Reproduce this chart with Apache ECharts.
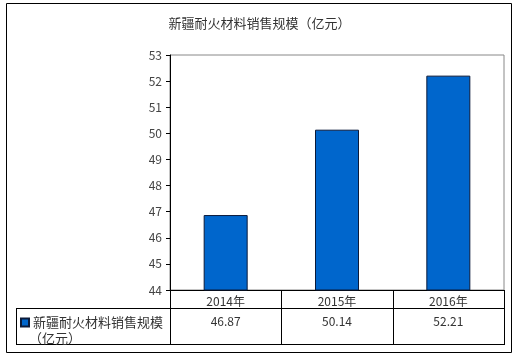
<!DOCTYPE html>
<html><head><meta charset="utf-8">
<script src="https://cdn.jsdelivr.net/npm/echarts@6/dist/echarts.min.js"></script>
<style>html,body{margin:0;padding:0;background:#fff}#c{width:519px;height:361px}</style>
</head><body><div id="c"></div>
<script>
const titleText = '新疆耐火材料销售规模（亿元）';
const seriesName = '新疆耐火材料销售规模';
const seriesUnit = '（亿元）';
const categories = ['2014年', '2015年', '2016年'];
const values = [46.87, 50.14, 52.21];
const valueLabels = ['46.87', '50.14', '52.21'];
const yMin = 44, yMax = 53, yStep = 1;

const FONT = '"Noto Sans CJK SC", "DejaVu Sans", sans-serif';
const chart = echarts.init(document.getElementById('c'));
const G = {left: 170, top: 55, width: 334, height: 235};
chart.setOption({
  animation: false,
  title: {text: titleText, left: 'center', top: 12, textStyle: {fontFamily: FONT, fontSize: 13, fontWeight: 'normal', color: '#333'}},
  legend: {
    data: [seriesName], left: 15, top: 311, itemWidth: 8, itemHeight: 8, icon: 'rect',
    itemGap: 0, textStyle: {fontFamily: FONT, fontSize: 13, color: '#333', padding: [0, 0, 0, -1]}
  },
  grid: {left: G.left, top: G.top, width: G.width, height: G.height, show: true, borderColor: '#888', borderWidth: 1},
  xAxis: {
    type: 'category', data: categories,
    axisLine: {lineStyle: {color: '#000', width: 1}},
    axisTick: {show: false},
    axisLabel: {fontFamily: FONT, fontSize: 12, color: '#333', margin: 5}
  },
  yAxis: {
    type: 'value', min: yMin, max: yMax, interval: yStep,
    axisLine: {show: true, lineStyle: {color: '#000'}},
    axisTick: {show: true, length: 4, lineStyle: {color: '#000'}},
    splitLine: {show: false},
    axisLabel: {fontFamily: FONT, fontSize: 12, color: '#444', margin: 8}
  },
  series: [{
    name: seriesName, type: 'bar', data: values, barWidth: 44,
    itemStyle: {color: '#0066CC', borderColor: '#0a1a3a', borderWidth: 1}
  }]
});

const c0 = chart.convertToPixel({xAxisIndex: 0}, categories[0]);
const c1 = chart.convertToPixel({xAxisIndex: 0}, categories[1]);
const band = c1 - c0;
const yBase = chart.convertToPixel({yAxisIndex: 0}, yMin);
const yHead = yBase + 18, yBot = yBase + 54;
const xLeg = 16;
const xL = c0 - band / 2, xR = xL + band * categories.length;
const line = (x1, y1, x2, y2, color) => ({type: 'line', silent: true, shape: {x1, y1, x2, y2}, style: {stroke: color || '#000', lineWidth: 1}});
const els = [];
els.push({type: 'rect', shape: {x: 6.5, y: 3.5, width: 505, height: 349}, style: {fill: 'none', stroke: '#000', lineWidth: 1}, z: -1});
els.push(line(xLeg, yHead + 0.5, xR, yHead + 0.5));
els.push(line(xLeg, yBot + 0.5, xR, yBot + 0.5));
els.push(line(xLeg + 0.5, yHead, xLeg + 0.5, yBot + 1));
for (let i = 0; i <= categories.length; i++) {
  const x = Math.round(xL + band * i) + 0.5;
  els.push(line(x, yBase, x, yBot + 1));
}
categories.forEach((cat, i) => {
  const cx = chart.convertToPixel({xAxisIndex: 0}, cat);
  els.push({type: 'text', style: {x: cx, y: yHead + 13, text: valueLabels[i], align: 'center', verticalAlign: 'middle', font: '12px ' + FONT, fill: '#333'}});
});
els.push({type: 'text', style: {x: 29, y: yHead + 30, text: seriesUnit, align: 'left', verticalAlign: 'middle', font: '13px ' + FONT, fill: '#333'}});
chart.setOption({graphic: els});
</script></body></html>
